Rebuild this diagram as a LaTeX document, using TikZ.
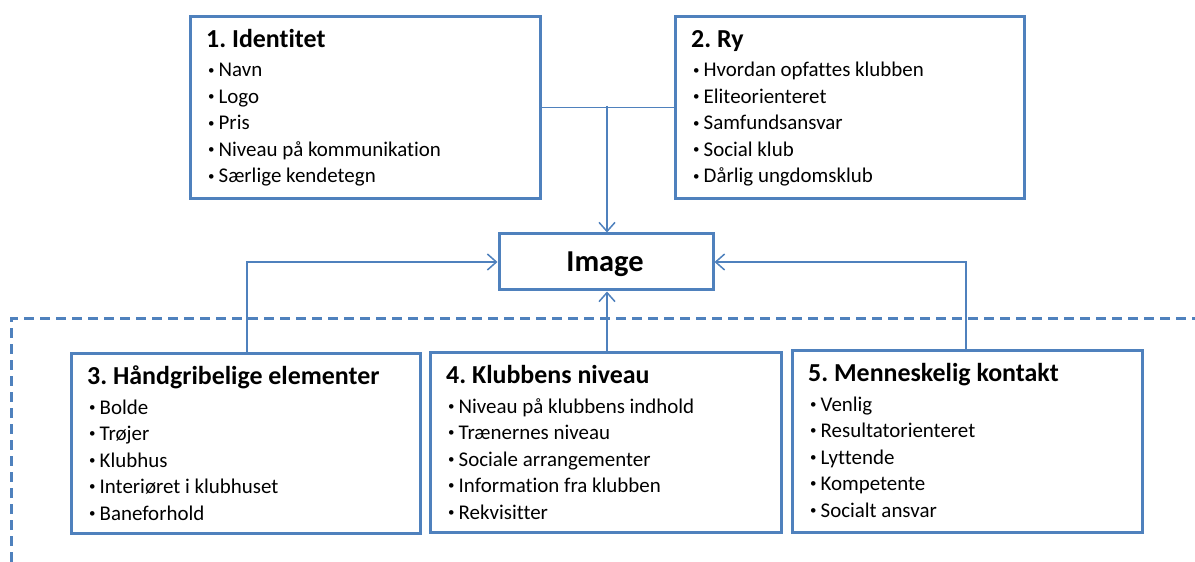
\documentclass[tikz,border=0pt]{standalone}
\usepackage{fontspec}
\setmainfont{Carlito}[Ligatures=NoCommon]
\usetikzlibrary{arrows.meta,calc}
\definecolor{acc}{HTML}{4F81BD}
\frenchspacing
\tikzset{
  box/.style={draw=acc, line width=3bp, anchor=north west, inner sep=0pt},
  ttl/.style={anchor=base west, inner sep=0pt, font=\fontsize{26}{30}\selectfont\bfseries},
  itm/.style={anchor=base west, inner sep=0pt, font=\fontsize{21}{25}\selectfont},
  conn/.style={draw=acc, line width=1.5bp},
  tip/.style={-{Straight Barb[length=9bp,width=16bp,line width=1.5bp]}},
  dashline/.style={draw=acc, line width=3bp, dash pattern=on 10bp off 6bp},
}
\newcommand{\smallbul}{\raisebox{0.13em}{\scalebox{0.62}{\textbullet}}}
\newcommand{\boxtext}[3]{%
  \node[ttl] (#1t) at ($(#1.north west)+(17,33)$) {#2};
  \foreach \t [count=\i] in {#3}
    \node[itm] (#1i\i) at ($(#1.north west)+(19,{33+29+26.5*(\i-1)})$) {\smallbul\hspace{4bp}\t};
}
\begin{document}
\begin{tikzpicture}[x=1bp,y=-1bp]
\useasboundingbox (0,0) rectangle (1195,562);
% dashed frame
\coordinate (d1) at (11,562);
\coordinate (d2) at (11,319);
\coordinate (d3) at (1195,319);
\draw[dashline] (d1) -- (d2) -- (d3);
% boxes
\node[box, minimum width=350bp, minimum height=182bp] (b1) at (189,15) {};
\node[box, minimum width=349bp, minimum height=182bp] (b2) at (674,15) {};
\node[box, minimum width=349bp, minimum height=180bp] (b3) at (70,352) {};
\node[box, minimum width=351bp, minimum height=180bp] (b4) at (429,351) {};
\node[box, minimum width=350bp, minimum height=182bp] (b5) at (791,349) {};
\node[draw=acc, line width=3bp, minimum width=214bp, minimum height=56bp, inner sep=0pt] (img) at (606,262) {};
\node[anchor=base, inner sep=0pt, font=\fontsize{30.5}{35}\selectfont\bfseries] (imgt) at (605,272) {Image};
\boxtext{b1}{1. Identitet}{Navn,Logo,Pris,Niveau på kommunikation,Særlige kendetegn}
\boxtext{b2}{2. Ry}{Hvordan opfattes klubben,Eliteorienteret,Samfundsansvar,Social klub,Dårlig ungdomsklub}
\boxtext{b3}{3. Håndgribelige elementer}{Bolde,Trøjer,Klubhus,Interiøret i klubhuset,Baneforhold}
\boxtext{b4}{4. Klubbens niveau}{Niveau på klubbens indhold,Trænernes niveau,Sociale arrangementer,Information fra klubben,Rekvisitter}
\boxtext{b5}{5. Menneskelig kontakt}{Venlig,Resultatorienteret,Lyttende,Kompetente,Socialt ansvar}
% connectors
\coordinate (j) at (607,106);
\draw[conn] (b1.east) -- (b2.west);
\draw[conn,tip] (j) -- (j |- img.north);
\coordinate (l3) at (247,352);
\draw[conn,tip] (l3) |- (img.west);
\coordinate (r5) at (966,349);
\draw[conn,tip] (r5) |- (img.east);
\draw[conn,tip] (j |- b4.north) -- (j |- img.south);
\end{tikzpicture}
\end{document}
